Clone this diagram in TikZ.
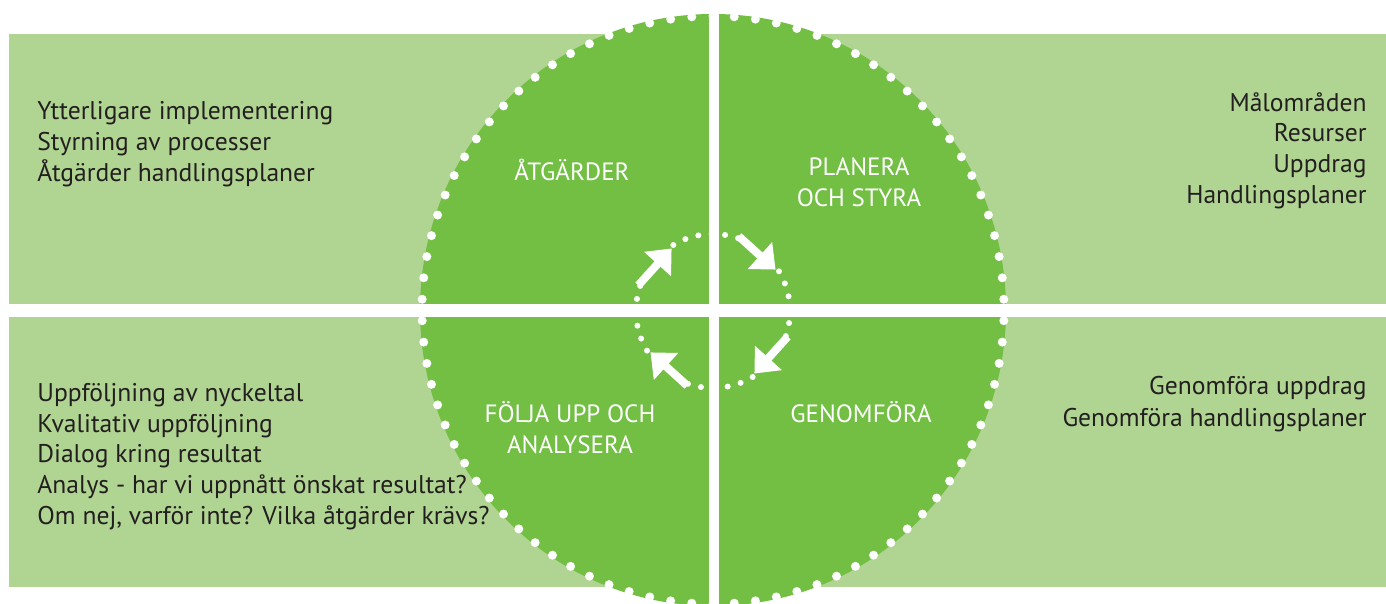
\documentclass[tikz,border=0pt]{standalone}
\usepackage{fontspec}
\setmainfont{PT Sans}
\usetikzlibrary{arrows.meta}
\definecolor{band}{RGB}{176,212,145}
\definecolor{dgreen}{RGB}{114,191,68}
\definecolor{txt}{RGB}{35,31,32}
\tikzset{
  blk/.style={text=txt,font=\fontsize{12.8}{15}\selectfont,inner sep=0pt},
  wht/.style={text=white,font=\fontsize{12.5}{15}\selectfont,inner sep=0pt,anchor=base},
  arr/.style={white,line width=4pt,-{Triangle[width=17.5pt,length=10.5pt]}}
}
\begin{document}
\begin{tikzpicture}[x=0.5pt,y=0.5pt]
\useasboundingbox (0,0) rectangle (1386,604);
% bands
\fill[band] (9,17) rectangle (1386,570);
% circle
\fill[dgreen] (713,294) ellipse [x radius=293, y radius=296];
\foreach \i in {0,...,85}{
  \pgfmathsetmacro{\ang}{90+\i*4.18605}
  \fill[white] ({713+291*cos(\ang)},{294+294*sin(\ang)}) circle (4.5);
}
% inner dots
\foreach \j in {0,1,2,3}{
  \foreach \k in {0,...,5}{
    \pgfmathsetmacro{\bng}{121-90*\j-10*\k}
    \fill[white] ({713+77*cos(\bng)},{293+77*sin(\bng)}) circle (3);
  }
}
% white stripes
\fill[white] (0,287) rectangle (1386,300);
\fill[white] (709,0) rectangle (719,604);
% arrows
\path[shift={(713,293)}]
  (71:79) coordinate (a1s) (33.5:75) coordinate (a1e)
  (-19:79) coordinate (a2s) (-56.5:75) coordinate (a2e)
  (-109:79) coordinate (a3s) (-146.5:75) coordinate (a3e)
  (161:79) coordinate (a4s) (123.5:75) coordinate (a4e);
\draw[arr] (a1s) -- (a1e);
\draw[arr] (a2s) -- (a2e);
\draw[arr] (a3s) -- (a3e);
\draw[arr] (a4s) -- (a4e);
% circle labels
\node[wht] (l1) at (572,423) {ÅTGÄRDER};
\node[wht] (l2a) at (859,428) {PLANERA};
\node[wht] (l2b) at (859,397) {OCH STYRA};
\node[wht] (l3a) at (570,181) {FÖLJA UPP OCH};
\node[wht] (l3b) at (570,150) {ANALYSERA};
\node[wht] (l4) at (861,181) {GENOMFÖRA};
% top-left text
\node[blk,anchor=base west] (tl1) at (37,484) {Ytterligare implementering};
\node[blk,anchor=base west] (tl2) at (37,453) {Styrning av processer};
\node[blk,anchor=base west] (tl3) at (37,422) {Åtgärder handlingsplaner};
% top-right text
\node[blk,anchor=base east] (tr1) at (1367,492) {Målområden};
\node[blk,anchor=base east] (tr2) at (1367,462) {Resurser};
\node[blk,anchor=base east] (tr3) at (1367,431) {Uppdrag};
\node[blk,anchor=base east] (tr4) at (1367,400) {Handlingsplaner};
% bottom-left text
\node[blk,anchor=base west] (bl1) at (37,202) {Uppföljning av nyckeltal};
\node[blk,anchor=base west] (bl2) at (37,171) {Kvalitativ uppföljning};
\node[blk,anchor=base west] (bl3) at (37,141) {Dialog kring resultat};
\node[blk,anchor=base west] (bl4) at (37,110) {Analys - har vi uppnått önskat resultat?};
\node[blk,anchor=base west] (bl5) at (37,79) {Om nej, varför inte? Vilka åtgärder krävs?};
% bottom-right text
\node[blk,anchor=base east] (br1) at (1367,209) {Genomföra uppdrag};
\node[blk,anchor=base east] (br2) at (1367,177) {Genomföra handlingsplaner};
\end{tikzpicture}
\end{document}
